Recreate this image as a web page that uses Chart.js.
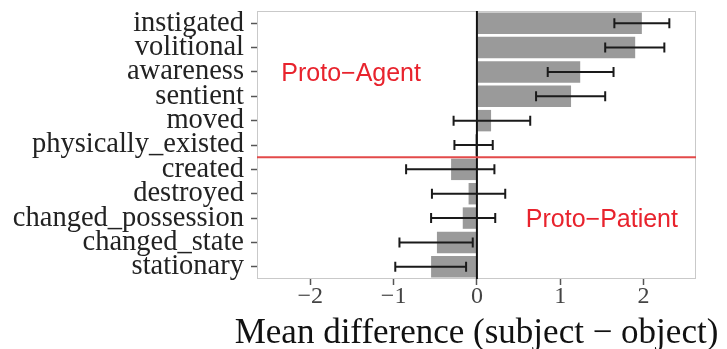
<!DOCTYPE html>
<html>
<head>
<meta charset="utf-8">
<script src="https://cdn.jsdelivr.net/npm/chart.js@4/dist/chart.umd.min.js"></script>
<style>
  html, body { margin: 0; padding: 0; background: #fff; }
  #wrap { width: 727px; height: 349px; }
</style>
</head>
<body>
<div id="wrap"><canvas id="c"></canvas></div>
<script>
// Proto-role property differences, subject minus object
const properties = ['instigated', 'volitional', 'awareness', 'sentient', 'moved', 'physically_existed',
  'created', 'destroyed', 'changed_possession', 'changed_state', 'stationary'];
const meanDiff = [1.98, 1.90, 1.24, 1.13, 0.17, -0.02, -0.31, -0.10, -0.17, -0.48, -0.55];
const errLow   = [1.65, 1.54, 0.85, 0.71, -0.28, -0.27, -0.85, -0.54, -0.55, -0.93, -0.98];
const errHigh  = [2.31, 2.25, 1.64, 1.54, 0.64, 0.19, 0.21, 0.34, 0.22, -0.05, -0.13];
const xTicks = [-2, -1, 0, 1, 2];
const xRange = [-2.64, 2.63];
const xTitle = 'Mean difference (subject \u2212 object)';
const dividerAfter = 'physically_existed';
const regionLabels = ['Proto\u2212Agent', 'Proto\u2212Patient'];
const regionX = [-1.51, 1.5];
const regionRow = ['awareness', 'changed_possession'];

const serif = '"Liberation Serif", "Times New Roman", serif';
const minus = v => v < 0 ? '\u2212' + Math.abs(v) : String(v);

// frame, zero line, error bars, divider, region labels, axis title
const extras = {
  id: 'extras',
  beforeDatasetsDraw(chart) {
    const { ctx, chartArea: a } = chart;
    ctx.save();
    ctx.strokeStyle = '#c9c9c9';
    ctx.lineWidth = 1;
    ctx.strokeRect(a.left + 0.5, a.top + 0.5, a.right - a.left - 1, a.bottom - a.top - 1);
    ctx.restore();
  },
  afterDatasetsDraw(chart) {
    const { ctx, chartArea: a, scales: { x, y } } = chart;
    ctx.save();
    // zero line
    const x0 = x.getPixelForValue(0);
    ctx.strokeStyle = '#111';
    ctx.lineWidth = 2;
    ctx.beginPath();
    ctx.moveTo(x0, a.top);
    ctx.lineTo(x0, a.bottom);
    ctx.stroke();

    // error bars
    ctx.strokeStyle = '#1a1a1a';
    ctx.lineWidth = 2;
    properties.forEach((p, i) => {
      const py = y.getPixelForValue(i);
      const xl = x.getPixelForValue(errLow[i]);
      const xh = x.getPixelForValue(errHigh[i]);
      ctx.beginPath();
      ctx.moveTo(xl, py); ctx.lineTo(xh, py);
      ctx.moveTo(xl, py - 5); ctx.lineTo(xl, py + 5);
      ctx.moveTo(xh, py - 5); ctx.lineTo(xh, py + 5);
      ctx.stroke();
    });

    // divider between agent and patient properties
    const dy = y.getPixelForValue(properties.indexOf(dividerAfter) + 0.5);
    ctx.strokeStyle = '#e34a4a';
    ctx.lineWidth = 2;
    ctx.beginPath();
    ctx.moveTo(a.left, dy);
    ctx.lineTo(a.right, dy);
    ctx.stroke();

    // region labels
    ctx.fillStyle = '#e8232d';
    ctx.font = '25px "Liberation Sans", Arial, sans-serif';
    ctx.textAlign = 'center';
    ctx.textBaseline = 'middle';
    regionLabels.forEach((t, i) => {
      ctx.fillText(t, x.getPixelForValue(regionX[i]), y.getPixelForValue(properties.indexOf(regionRow[i])) + 2);
    });

    // x axis title (drawn here so it is not squeezed to the plot width)
    ctx.fillStyle = '#111';
    ctx.font = '35px ' + serif;
    ctx.fillText(xTitle, (a.left + a.right) / 2, a.bottom + 55);
    ctx.restore();
  }
};

new Chart(document.getElementById('c'), {
  type: 'bar',
  data: {
    labels: properties,
    datasets: [{
      data: meanDiff,
      backgroundColor: '#9a9a9a',
      borderWidth: 0,
      categoryPercentage: 0.88,
      barPercentage: 1.0
    }]
  },
  options: {
    indexAxis: 'y',
    responsive: true,
    maintainAspectRatio: false,
    animation: false,
    layout: { padding: { top: 11, right: 31, left: 0, bottom: 0 } },
    plugins: { legend: { display: false }, tooltip: { enabled: false } },
    scales: {
      x: {
        min: xRange[0],
        max: xRange[1],
        afterBuildTicks: s => { s.ticks = xTicks.map(v => ({ value: v })); },
        afterFit: s => { s.height = 70; s.paddingLeft = 0; s.paddingRight = 0; },
        grid: { drawOnChartArea: false, drawTicks: true, tickLength: 6, tickColor: '#555', tickWidth: 1.5 },
        border: { display: false },
        ticks: {
          color: '#444',
          padding: -3,
          maxRotation: 0,
          font: { family: serif, size: 24 },
          callback: v => minus(v)
        }
      },
      y: {
        afterFit: s => { s.width = 257; s.paddingTop = 0; s.paddingBottom = 0; },
        grid: { drawOnChartArea: false, drawTicks: true, tickLength: 6, tickColor: '#555', tickWidth: 1.5, offset: false },
        border: { display: false },
        ticks: {
          color: '#222',
          padding: 7,
          autoSkip: false,
          font: { family: serif, size: 28.5 }
        }
      }
    }
  },
  plugins: [extras]
});
</script>
</body>
</html>
